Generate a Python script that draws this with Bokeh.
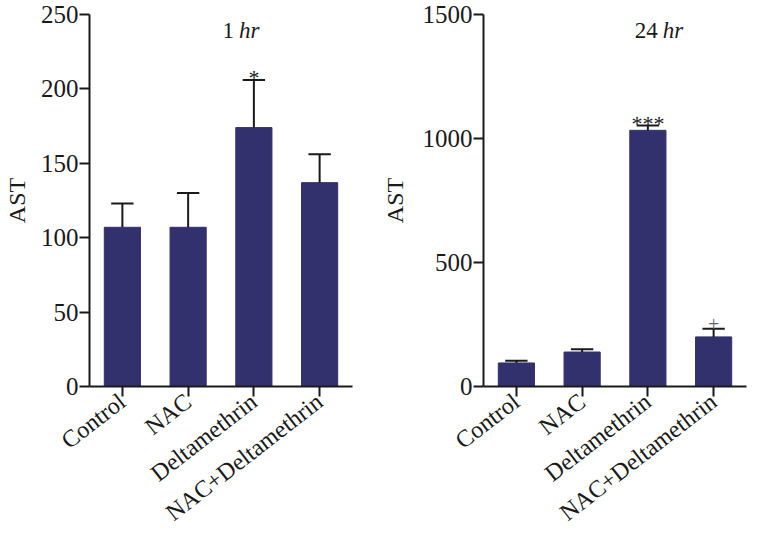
from bokeh.plotting import figure
from bokeh.layouts import row
from bokeh.models import ColumnDataSource, Range1d
from bokeh.transform import dodge
from bokeh.embed import file_html
from bokeh.resources import INLINE
from bokeh.core.properties import value

groups = ["Control", "NAC", "Deltamethrin", "NAC+Deltamethrin"]

ast_1hr = [107, 107, 174, 137]
err_1hr = [16, 23, 32, 19]
sig_1hr = ["", "", "*", ""]

ast_24hr = [95, 139, 1033, 200]
err_24hr = [9, 11, 19, 33]
sig_24hr = ["", "", "***", "+"]

y_ticks_1hr = [0, 50, 100, 150, 200, 250]
y_ticks_24hr = [0, 500, 1000, 1500]

time_labels = ["1", "24"]
time_unit = "hr"

FONT = "Liberation Serif"
BAR = "#33306e"
INK = "#1a1a1a"


def panel(vals, errs, sig, ticks, width, b_left, b_right, label_standoff):
    p = figure(x_range=groups, y_range=Range1d(0, ticks[-1]),
               width=width, height=539, output_backend="svg",
               toolbar_location=None, min_border_left=b_left,
               min_border_right=b_right, min_border_top=14,
               min_border_bottom=140)
    upper = [v + e for v, e in zip(vals, errs)]
    src = ColumnDataSource(dict(g=groups, v=vals, up=upper))
    p.vbar(x="g", top="v", bottom=0, width=0.55, source=src,
           fill_color=BAR, line_color=BAR)
    p.segment(x0="g", y0="v", x1="g", y1="up", source=src,
              line_color=INK, line_width=2)
    p.rect(x="g", y="up", width=0.34, height=2, height_units="screen",
           source=src, fill_color=INK, line_color=None)
    star = [s if s != "+" else "" for s in sig]
    plus = [s if s == "+" else "" for s in sig]
    p.text(x=groups, y=upper, text=star, text_font=value(FONT),
           text_font_size="22px", text_align="center",
           text_baseline="alphabetic", y_offset=-2, text_color=INK)
    p.text(x=groups, y=upper, text=plus, text_font=value(FONT),
           text_font_size="20px", text_align="center",
           text_baseline="alphabetic", y_offset=-5, text_color="#666666")

    p.xgrid.visible = False
    p.ygrid.visible = False
    p.outline_line_color = None

    for ax in (p.xaxis[0], p.yaxis[0]):
        ax.axis_line_width = 2
        ax.axis_line_color = INK
        ax.major_tick_line_color = INK
        ax.major_tick_line_width = 2
        ax.major_tick_in = 0
        ax.minor_tick_line_color = None
        ax.major_label_text_font = FONT
        ax.major_label_text_color = INK

    p.yaxis.ticker = ticks
    p.yaxis.major_tick_out = 10
    p.yaxis.major_label_standoff = 1
    p.yaxis.major_label_text_font_size = "25px"
    p.yaxis.axis_label = "AST"
    p.yaxis.axis_label_text_font = FONT
    p.yaxis.axis_label_text_font_style = "normal"
    p.yaxis.axis_label_text_font_size = "24px"
    p.yaxis.axis_label_text_color = INK
    p.yaxis.axis_label_standoff = label_standoff

    p.xaxis.major_tick_out = 10
    p.xaxis.major_label_standoff = 2
    p.xaxis.major_label_text_font_size = "24px"
    p.xaxis.major_label_orientation = 0.66
    return p


def title(p, offset, y, num):
    src = ColumnDataSource(dict(g=[groups[2]], y=[y], num=[num],
                                unit=[time_unit]))
    p.text(x=dodge("g", offset, range=p.x_range), y="y", text="num",
           source=src, text_font=value(FONT), text_font_size="23px",
           text_align="right", text_baseline="alphabetic", x_offset=-2,
           text_color=INK)
    p.text(x=dodge("g", offset, range=p.x_range), y="y", text="unit",
           source=src, text_font=value(FONT), text_font_size="23px",
           text_font_style="italic", text_align="left",
           text_baseline="alphabetic", x_offset=3, text_color=INK)


p1 = panel(ast_1hr, err_1hr, sig_1hr, y_ticks_1hr, 376, 88, 24, 8)
title(p1, -0.27, 239, time_labels[0])

p2 = panel(ast_24hr, err_24hr, sig_24hr, y_ticks_24hr, 376, 107, 6, 12)
title(p2, 0.18, 1435, time_labels[1])

layout = row(p1, p2)
open("out.html", "w").write(file_html(layout, INLINE))
